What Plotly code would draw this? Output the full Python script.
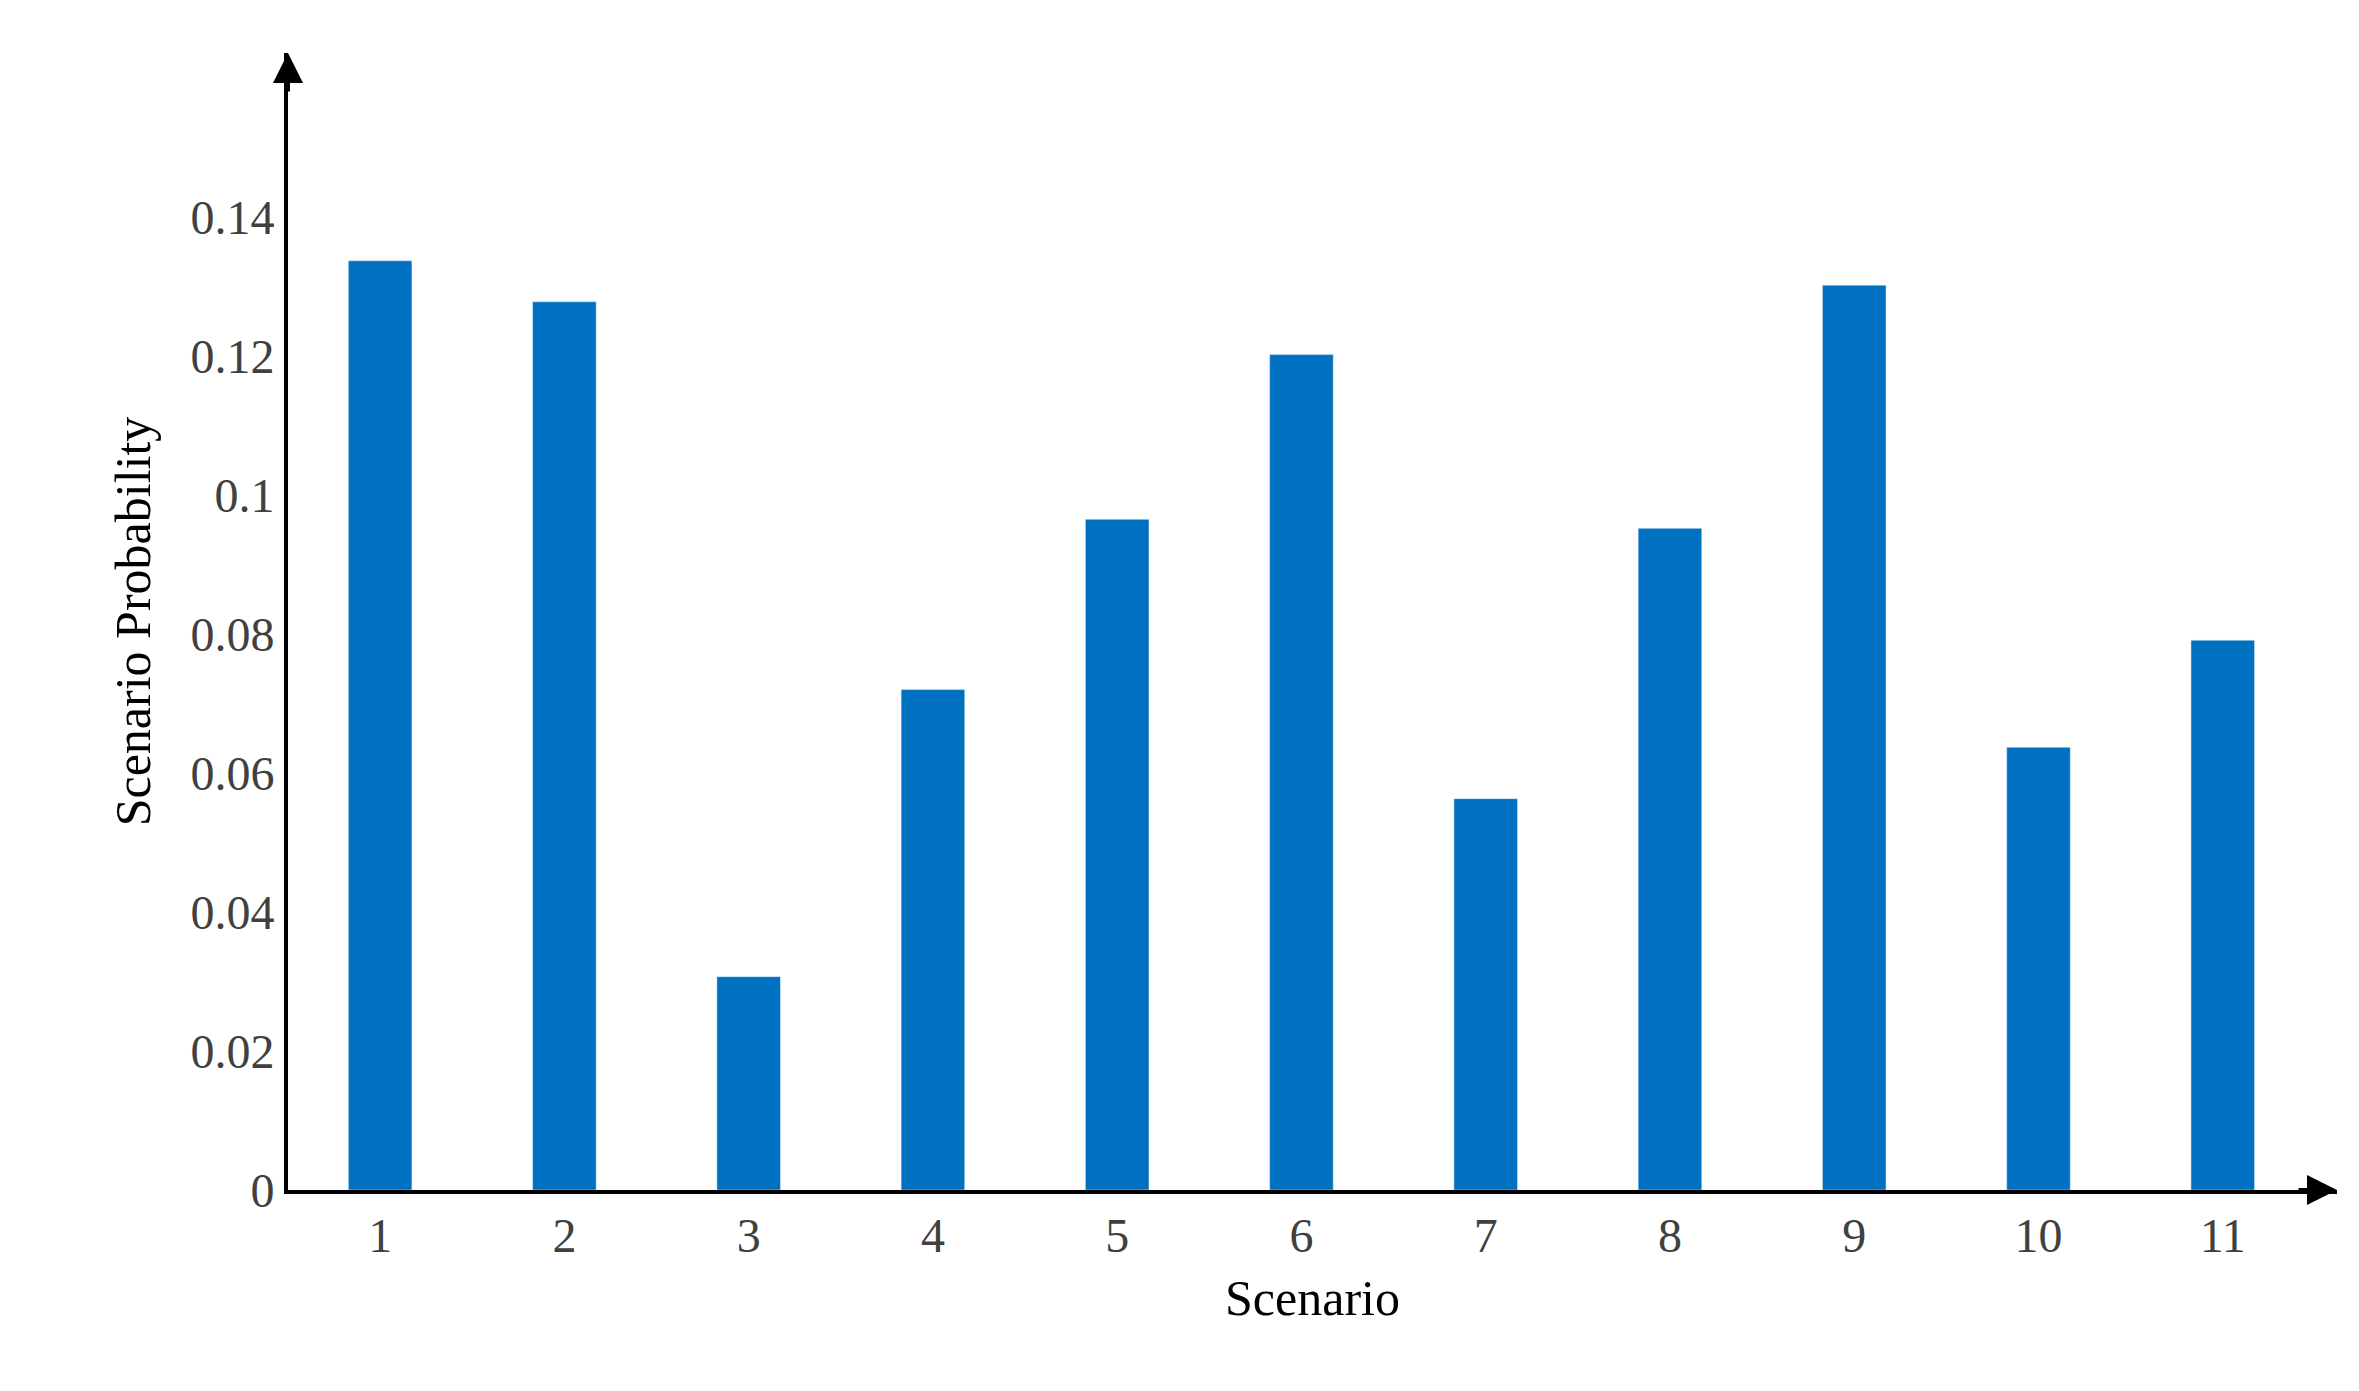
import plotly.graph_objects as go

scenarios = list(range(1, 12))
probabilities = [0.1337, 0.1278, 0.0307, 0.0720, 0.0965, 0.1202, 0.0563, 0.0952, 0.1302, 0.0637, 0.0791]
tick_vals = [0, 0.02, 0.04, 0.06, 0.08, 0.1, 0.12, 0.14]
tick_text = ["0", "0.02", "0.04", "0.06", "0.08", "0.1", "0.12", "0.14"]

font = "Liberation Serif"
fig = go.Figure(go.Bar(x=scenarios, y=probabilities, width=0.345, marker_color="#0070C0"))
fig.update_layout(
    width=2359, height=1391, plot_bgcolor="white", paper_bgcolor="white",
    margin=dict(l=280, r=30, t=45, b=209), showlegend=False,
    font=dict(family=font, size=48, color="#404040"),
)
fig.update_xaxes(range=[0.5, 11.62], tickvals=scenarios, ticks="", showline=True, linecolor="black",
                 linewidth=4, showgrid=False, zeroline=False,
                 title=dict(text="Scenario", font=dict(size=50, color="black"), standoff=20),
                 tickfont=dict(size=48))
fig.update_yaxes(range=[0, 0.1636], tickvals=tick_vals, ticktext=tick_text, ticks="", showline=True,
                 linecolor="black", linewidth=4, showgrid=False, zeroline=False,
                 title=dict(text="Scenario Probability", font=dict(size=50, color="black"), standoff=25),
                 tickfont=dict(size=48))
# arrowheads
fig.add_annotation(xref="paper", yref="paper", x=1, y=0, ax=-40, ay=0, showarrow=True,
                   arrowhead=2, arrowsize=1.5, arrowwidth=4, arrowcolor="black", text="")
fig.add_annotation(xref="paper", yref="paper", x=0, y=1, ax=0, ay=40, showarrow=True,
                   arrowhead=2, arrowsize=1.5, arrowwidth=4, arrowcolor="black", text="")
fig.write_html("out.html")
